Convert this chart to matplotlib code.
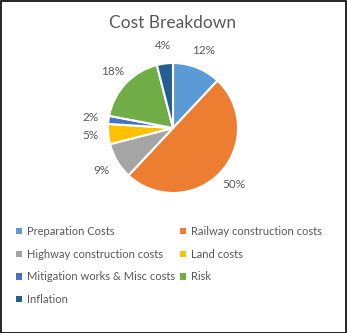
import matplotlib
matplotlib.use("Agg")
import matplotlib.pyplot as plt
from matplotlib.patches import Patch, Rectangle

categories = ["Preparation Costs", "Railway construction costs", "Highway construction costs",
              "Land costs", "Mitigation works & Misc costs", "Risk", "Inflation"]
shares = [12, 50, 9, 5, 2, 18, 4]
colors = ["#5B9BD5", "#ED7D31", "#A5A5A5", "#FFC000", "#4472C4", "#70AD47", "#255E91"]
title = "Cost Breakdown"

plt.rcParams["font.family"] = ["Lato", "DejaVu Sans"]
text_color = "#595959"

W, H = 347, 333
fig = plt.figure(figsize=(W / 100, H / 100), dpi=100)
fig.patch.set_facecolor("white")

cx, cy, r = 173, 128, 65
ax = fig.add_axes([(cx - r) / W, (H - cy - r) / H, 2 * r / W, 2 * r / H])
wedges, texts = ax.pie(
    shares, colors=colors, startangle=90, counterclock=False,
    labels=[f"{v}%" for v in shares], labeldistance=1.28,
    wedgeprops=dict(edgecolor="white", linewidth=1.5),
    textprops=dict(color=text_color, fontsize=8.5, ha="center", va="center"),
)
for t in texts:
    t.set_ha("center")
ax.set_xlim(-1, 1)
ax.set_ylim(-1, 1)
ax.axis("off")

fig.text(cx / W, 1 - 23 / H, title, ha="center", va="center", fontsize=12.5, color=text_color)

handles = [Patch(facecolor=c, edgecolor="none") for c in colors]
left_idx = [0, 2, 4, 6]
right_idx = [1, 3, 5]
common = dict(frameon=False, fontsize=8, handlelength=0.5, handleheight=0.5,
              handletextpad=0.45, labelspacing=1.05, borderpad=0, borderaxespad=0,
              labelcolor=text_color, loc="upper left")
leg1 = fig.legend([handles[i] for i in left_idx], [categories[i] for i in left_idx],
                  bbox_to_anchor=(16 / W, 1 - 226 / H), **common)
leg2 = fig.legend([handles[i] for i in right_idx], [categories[i] for i in right_idx],
                  bbox_to_anchor=(180 / W, 1 - 226 / H), **common)

fig.add_artist(Rectangle((0.5 / W, 0.5 / H), 1 - 1.5 / W, 1 - 1.5 / H, transform=fig.transFigure,
                         fill=False, edgecolor="black", linewidth=1.2))

fig.savefig("out.png", dpi=100)
